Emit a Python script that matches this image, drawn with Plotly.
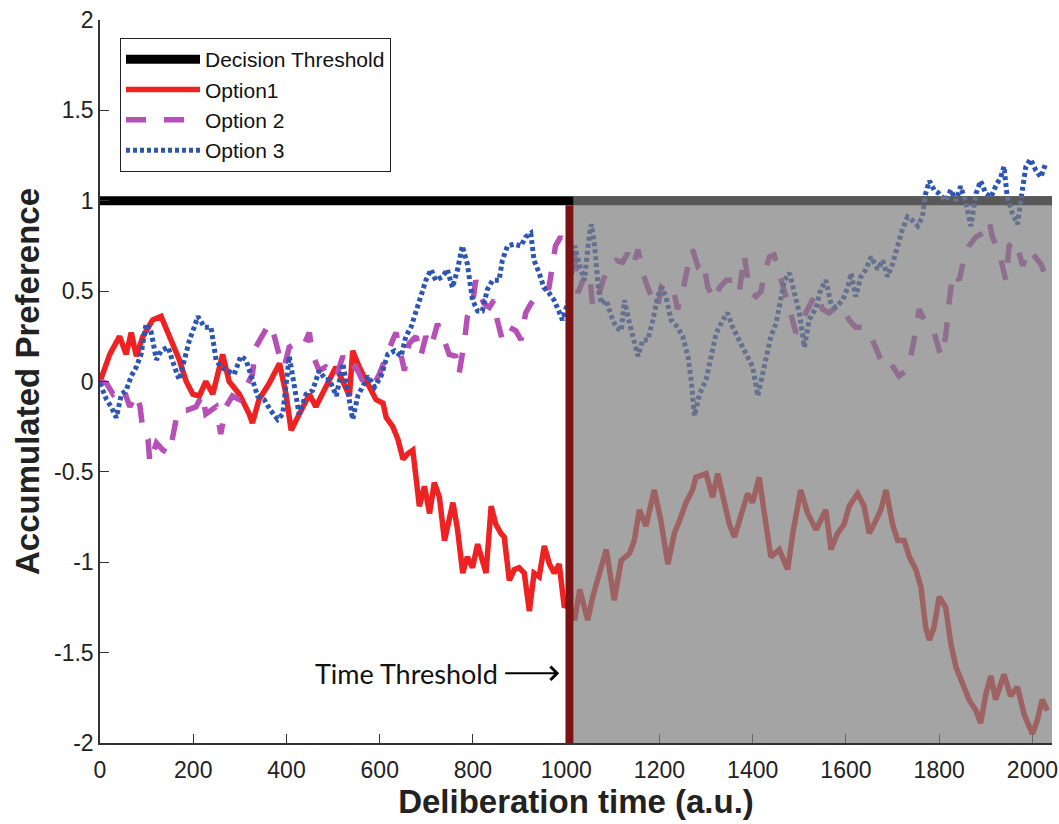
import plotly.graph_objects as go

# ---------------- data ----------------
x_axis_max = 2042
threshold_x = [0, 2042]
threshold_y = [1, 1]
time_threshold = 1007

opt1_x = [0, 21, 42, 56, 67, 78, 92, 113, 131, 149,
          170, 185, 199, 213, 227, 242, 263, 277, 299, 320,
          327, 341, 363, 385, 399, 410, 427, 449, 463, 484,
          506, 521, 535, 542, 556, 578, 592, 607, 614, 628,
          639, 650, 660, 671, 678, 685, 696, 707, 717, 728,
          739, 749, 757, 767, 778, 788, 799, 810, 821, 828,
          839, 849, 860, 867, 878, 889, 899, 910, 921, 931,
          942, 953, 964, 974, 985, 992, 996, 1005, 1018, 1029,
          1039, 1046, 1057, 1068, 1086, 1103, 1118, 1136, 1146, 1157,
          1171, 1189, 1203, 1218, 1232, 1243, 1257, 1271, 1278, 1300,
          1314, 1325, 1339, 1350, 1361, 1375, 1389, 1400, 1414, 1425,
          1439, 1457, 1475, 1486, 1503, 1518, 1536, 1557, 1568, 1582,
          1596, 1607, 1625, 1639, 1650, 1664, 1675, 1686, 1700, 1711,
          1725, 1736, 1750, 1761, 1771, 1779, 1789, 1800, 1814, 1825,
          1836, 1850, 1864, 1879, 1889, 1900, 1911, 1921, 1939, 1953,
          1968, 1982, 2000, 2011, 2021, 2032]
opt1_y = [0.0, 0.15, 0.25, 0.15, 0.27, 0.14, 0.25, 0.34, 0.36, 0.25,
          0.12, 0.0, -0.07, -0.08, 0.0, -0.07, 0.15, 0.0, -0.07, -0.18,
          -0.23, -0.10, -0.01, 0.10, -0.07, -0.27, -0.18, -0.07, -0.14, -0.03,
          0.08, 0.00, -0.08, 0.17, 0.08, -0.03, -0.10, -0.12, -0.20, -0.25,
          -0.32, -0.43, -0.40, -0.38, -0.55, -0.69, -0.58, -0.73, -0.56, -0.64,
          -0.88, -0.77, -0.67, -0.82, -1.06, -0.97, -1.03, -0.90, -0.99, -1.06,
          -0.69, -0.79, -0.84, -0.86, -1.10, -1.04, -1.03, -1.06, -1.27, -1.06,
          -1.08, -0.91, -1.01, -1.06, -1.01, -1.14, -1.25, -1.22, -1.32, -1.15,
          -1.25, -1.32, -1.19, -1.10, -0.93, -1.21, -0.99, -0.95, -0.88, -0.71,
          -0.80, -0.60, -0.77, -1.01, -0.84, -0.77, -0.67, -0.60, -0.53, -0.51,
          -0.64, -0.51, -0.66, -0.79, -0.86, -0.75, -0.62, -0.67, -0.53, -0.73,
          -0.97, -0.93, -1.04, -0.84, -0.60, -0.73, -0.82, -0.71, -0.93, -0.84,
          -0.79, -0.69, -0.62, -0.69, -0.84, -0.77, -0.71, -0.60, -0.79, -0.88,
          -0.88, -0.97, -1.04, -1.14, -1.36, -1.43, -1.36, -1.19, -1.25, -1.45,
          -1.58, -1.67, -1.76, -1.82, -1.89, -1.73, -1.63, -1.76, -1.62, -1.74,
          -1.69, -1.84, -1.95, -1.87, -1.76, -1.82]

opt2_x = [0, 14, 28, 49, 64, 78, 86, 92, 103, 107,
          121, 135, 149, 160, 167, 185, 206, 220, 227, 249,
          259, 270, 284, 299, 313, 327, 334, 348, 363, 374,
          385, 395, 406, 420, 435, 449, 456, 470, 484, 506,
          521, 535, 549, 564, 585, 599, 614, 628, 635, 646,
          653, 663, 678, 688, 699, 710, 724, 738, 749, 763,
          770, 781, 788, 799, 806, 813, 824, 835, 845, 852,
          863, 878, 892, 903, 913, 924, 935, 949, 963, 970,
          977, 988, 999, 1018, 1025, 1036, 1050, 1057, 1064, 1079,
          1093, 1107, 1121, 1132, 1143, 1154, 1164, 1175, 1186, 1196,
          1204, 1214, 1229, 1239, 1250, 1261, 1271, 1282, 1293, 1304,
          1318, 1329, 1343, 1357, 1371, 1382, 1393, 1407, 1418, 1425,
          1436, 1446, 1457, 1468, 1479, 1493, 1504, 1514, 1536, 1550,
          1564, 1578, 1593, 1607, 1621, 1636, 1650, 1664, 1675, 1686,
          1700, 1714, 1729, 1739, 1746, 1757, 1768, 1779, 1789, 1804,
          1814, 1821, 1829, 1843, 1854, 1864, 1879, 1893, 1907, 1914,
          1929, 1943, 1950, 1964, 1979, 1993, 2007, 2018, 2029]
opt2_y = [0.0, -0.01, -0.07, -0.03, -0.14, -0.07, -0.14, -0.27, -0.32, -0.45,
          -0.34, -0.38, -0.40, -0.25, -0.16, -0.16, -0.14, -0.07, -0.18, -0.14,
          -0.29, -0.14, -0.08, -0.10, -0.03, 0.04, 0.19, 0.25, 0.32, 0.25,
          0.14, 0.08, 0.19, 0.21, 0.19, 0.27, 0.15, 0.06, 0.08, 0.02,
          0.14, 0.06, 0.08, 0.00, -0.03, 0.04, 0.15, 0.23, 0.27, 0.15,
          0.06, 0.21, 0.25, 0.14, 0.25, 0.19, 0.32, 0.23, 0.15, 0.14,
          0.04, 0.21, 0.36, 0.43, 0.56, 0.49, 0.43, 0.41, 0.45, 0.34,
          0.23, 0.30, 0.28, 0.23, 0.38, 0.43, 0.47, 0.51, 0.52, 0.65,
          0.75, 0.80, 0.75, 0.69, 0.49, 0.56, 0.60, 0.41, 0.43, 0.56,
          0.64, 0.67, 0.66, 0.71, 0.64, 0.73, 0.60, 0.52, 0.45, 0.41,
          0.52, 0.50, 0.52, 0.40, 0.50, 0.64, 0.73, 0.64, 0.67, 0.52,
          0.45, 0.52, 0.56, 0.56, 0.49, 0.70, 0.50, 0.47, 0.50, 0.60,
          0.69, 0.70, 0.60, 0.52, 0.41, 0.27, 0.30, 0.38, 0.49, 0.40,
          0.38, 0.41, 0.41, 0.34, 0.30, 0.30, 0.27, 0.19, 0.12, 0.14,
          0.08, 0.03, 0.06, 0.14, 0.23, 0.40, 0.34, 0.30, 0.27, 0.14,
          0.25, 0.43, 0.60, 0.56, 0.69, 0.75, 0.80, 0.82, 0.89, 0.80,
          0.71, 0.56, 0.75, 0.78, 0.64, 0.73, 0.69, 0.65, 0.58]

opt3_x = [0, 14, 24, 35, 46, 56, 67, 78, 88, 99,
          110, 121, 131, 146, 160, 170, 181, 192, 202, 210,
          224, 238, 249, 259, 273, 288, 302, 313, 327, 338,
          352, 366, 381, 392, 406, 417, 427, 442, 456, 470,
          484, 492, 507, 521, 532, 542, 553, 564, 575, 589,
          603, 617, 632, 646, 656, 667, 678, 688, 699, 710,
          720, 735, 745, 756, 767, 777, 788, 799, 810, 820,
          831, 842, 856, 863, 874, 888, 903, 913, 924, 931,
          942, 952, 963, 974, 984, 992, 1005, 1018, 1029, 1039,
          1050, 1054, 1061, 1068, 1075, 1086, 1097, 1107, 1118, 1125,
          1136, 1146, 1154, 1164, 1175, 1186, 1196, 1204, 1214, 1225,
          1239, 1250, 1261, 1268, 1275, 1286, 1300, 1311, 1322, 1336,
          1346, 1357, 1371, 1386, 1400, 1411, 1418, 1429, 1439, 1450,
          1457, 1468, 1479, 1489, 1500, 1511, 1521, 1536, 1546, 1557,
          1568, 1578, 1593, 1604, 1611, 1621, 1632, 1643, 1654, 1668,
          1679, 1689, 1700, 1711, 1721, 1732, 1743, 1754, 1764, 1771,
          1779, 1789, 1800, 1814, 1825, 1836, 1846, 1857, 1868, 1879,
          1889, 1900, 1911, 1921, 1932, 1939, 1946, 1957, 1968, 1975,
          1986, 1996, 2007, 2018, 2029]
opt3_y = [-0.01, -0.10, -0.14, -0.20, -0.07, -0.05, 0.03, 0.08, 0.15, 0.32,
          0.27, 0.12, 0.17, 0.19, 0.08, 0.01, 0.12, 0.23, 0.30, 0.36,
          0.30, 0.30, 0.12, 0.08, 0.06, 0.04, 0.14, 0.12, 0.01, -0.08,
          -0.10, -0.16, -0.21, -0.18, 0.14, -0.05, -0.18, -0.07, -0.05, 0.06,
          0.01, 0.01, -0.08, 0.10, -0.08, -0.21, -0.08, -0.03, 0.03, -0.03,
          0.03, 0.15, 0.17, 0.14, 0.25, 0.30, 0.38, 0.47, 0.56, 0.62,
          0.56, 0.58, 0.62, 0.52, 0.62, 0.75, 0.65, 0.45, 0.39, 0.39,
          0.51, 0.56, 0.56, 0.67, 0.75, 0.76, 0.75, 0.80, 0.82, 0.67,
          0.60, 0.52, 0.49, 0.45, 0.39, 0.34, 0.45, 0.75, 0.64, 0.56,
          0.82, 0.87, 0.75, 0.54, 0.43, 0.45, 0.36, 0.30, 0.28, 0.45,
          0.32, 0.21, 0.14, 0.23, 0.23, 0.34, 0.47, 0.52, 0.47, 0.34,
          0.30, 0.25, 0.14, 0.01, -0.19, -0.07, 0.01, 0.14, 0.27, 0.34,
          0.38, 0.30, 0.23, 0.16, 0.08, -0.08, 0.01, 0.12, 0.25, 0.32,
          0.41, 0.56, 0.60, 0.49, 0.38, 0.19, 0.34, 0.41, 0.51, 0.56,
          0.43, 0.41, 0.45, 0.52, 0.60, 0.47, 0.58, 0.62, 0.69, 0.62,
          0.67, 0.58, 0.65, 0.75, 0.84, 0.91, 0.89, 0.86, 0.91, 1.04,
          1.11, 1.06, 1.04, 1.00, 1.06, 1.00, 1.08, 0.99, 0.86, 1.04,
          1.11, 1.04, 1.02, 1.08, 1.13, 1.19, 1.02, 0.93, 0.87, 1.00,
          1.19, 1.23, 1.17, 1.13, 1.21]

x_ticks = [0, 200, 400, 600, 800, 1000, 1200, 1400, 1600, 1800, 2000]
y_ticks = [-2, -1.5, -1, -0.5, 0, 0.5, 1, 1.5, 2]
y_tick_text = ["-2", "-1.5", "-1", "-0.5", "0", "0.5", "1", "1.5", "2"]

# ---------------- figure ----------------
ARIAL = "Arial, Liberation Sans, Helvetica, sans-serif"

fig = go.Figure()
fig.add_trace(go.Scatter(x=threshold_x, y=threshold_y, mode="lines",
                         name="Decision Threshold", legendgroup="a",
                         line=dict(color="black", width=9)))
fig.add_trace(go.Scatter(x=opt1_x, y=opt1_y, mode="lines", name="Option1",
                         legendgroup="b",
                         line=dict(color="#ee2222", width=5.5)))
fig.add_trace(go.Scatter(x=opt2_x, y=opt2_y, mode="lines", name="Option 2",
                         legendgroup="c",
                         line=dict(color="#b64fb6", width=5.5, dash="20px,18px")))
fig.add_trace(go.Scatter(x=opt3_x, y=opt3_y, mode="lines", name="Option 3",
                         legendgroup="d",
                         line=dict(color="#2c55b4", width=5, dash="4px,3px")))

# gray overlay after the time threshold
fig.add_shape(type="rect", xref="x", yref="y",
              x0=time_threshold + 8, x1=x_axis_max, y0=-2, y1=1.025,
              fillcolor="rgba(125,125,125,0.70)", line=dict(width=0),
              layer="above")
# time threshold vertical line
fig.add_shape(type="line", xref="x", yref="y",
              x0=time_threshold, x1=time_threshold, y0=-2, y1=0.975,
              line=dict(color="#7a1414", width=8), layer="above")

fig.add_annotation(x=857, y=-1.614, xref="x", yref="y", text="Time Threshold",
                   showarrow=False, xanchor="right", yanchor="middle",
                   font=dict(family="Lato, Open Sans, sans-serif", size=27, color="#111"))
fig.add_annotation(x=985, y=-1.614, xref="x", yref="y", text="",
                   ax=866, ay=-1.614, axref="x", ayref="y",
                   showarrow=True, arrowhead=4, arrowsize=1.3, arrowwidth=2,
                   arrowcolor="black")

fig.update_layout(
    width=1059, height=824,
    margin=dict(l=100, r=7, t=20, b=81, autoexpand=False),
    paper_bgcolor="white", plot_bgcolor="white",
    font=dict(family=ARIAL, color="#222"),
    showlegend=True,
    hovermode=False,
    legend=dict(x=0.021, y=0.975, xanchor="left", yanchor="top",
                bgcolor="white", bordercolor="#222", borderwidth=1,
                font=dict(family=ARIAL, size=21, color="#111"),
                itemwidth=74, tracegroupgap=0, traceorder="grouped"),
)
fig.update_xaxes(range=[0, x_axis_max], tickvals=x_ticks, automargin=False,
                 ticks="inside", ticklen=9, tickwidth=1.2, tickcolor="#333",
                 showline=True, linecolor="#333", linewidth=1.5,
                 showgrid=False, zeroline=False, ticklabelstandoff=6,
                 ticklabeloverflow="allow",
                 tickfont=dict(family=ARIAL, size=23, color="#222"),
                 title=dict(text="<b>Deliberation time (a.u.)</b>",
                            font=dict(family=ARIAL, size=33, color="#222"),
                            standoff=7))
fig.update_yaxes(range=[-2, 2], tickvals=y_ticks, ticktext=y_tick_text,
                 automargin=False, ticklabeloverflow="allow",
                 ticks="inside", ticklen=9, tickwidth=1.2, tickcolor="#333",
                 showline=True, linecolor="#333", linewidth=1.5,
                 showgrid=False, zeroline=False,
                 tickfont=dict(family=ARIAL, size=23, color="#222"),
                 title=dict(text="<b>Accumulated Preference</b>",
                            font=dict(family=ARIAL, size=33, color="#222"),
                            standoff=4))

# remove the browser's default 8px body margin so the figure fills the window
fig.write_html("out.html",
               config={"displayModeBar": False},
               post_script="document.body.style.margin='0px';"
                           "document.body.style.overflow='hidden';")
